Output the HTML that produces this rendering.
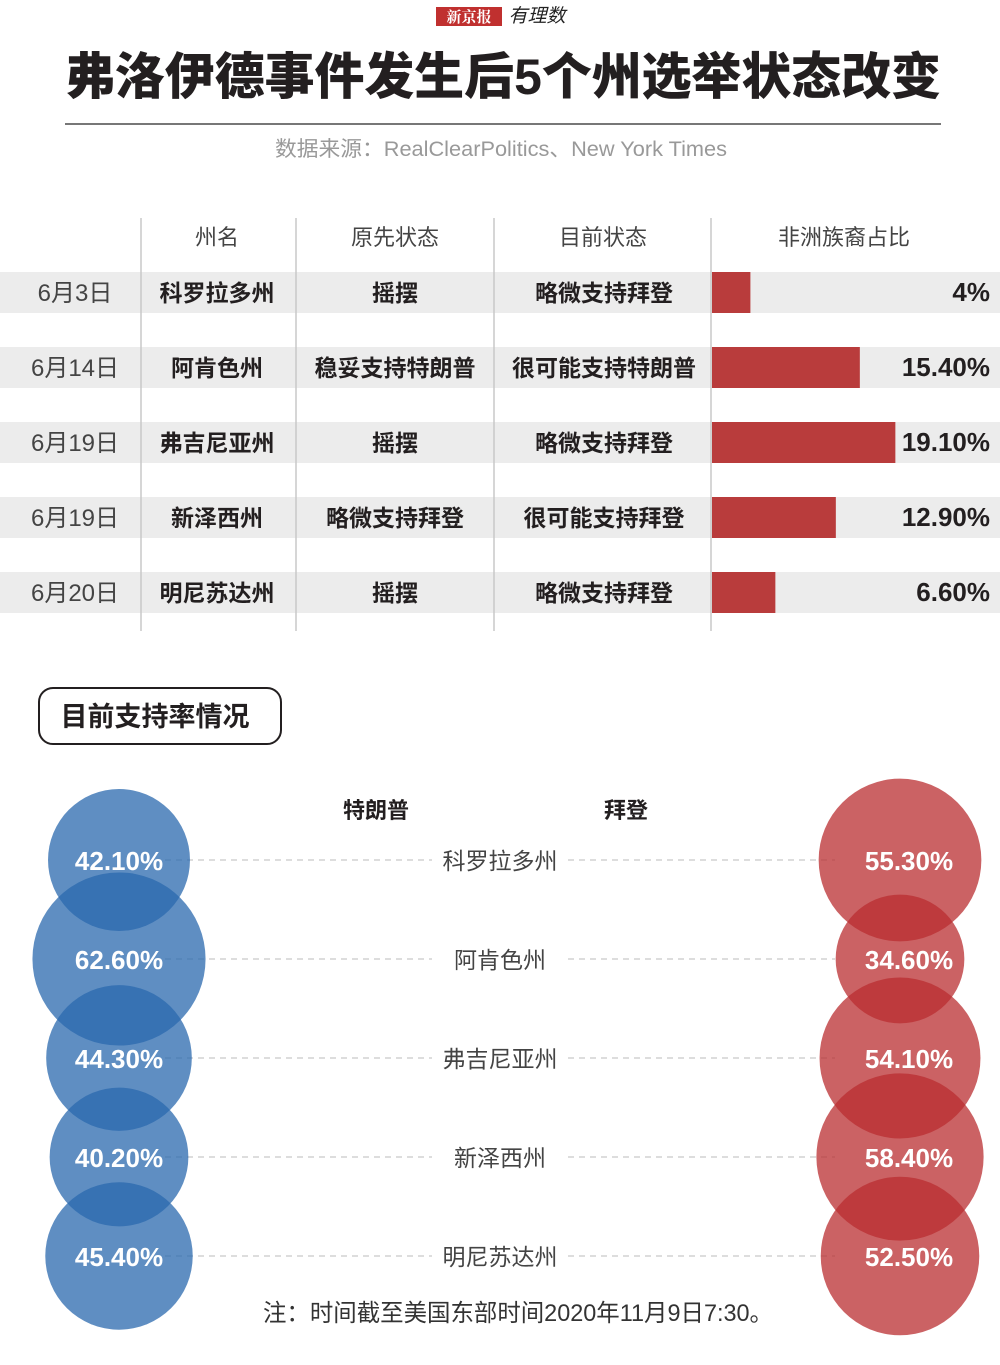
<!DOCTYPE html>
<html><head><meta charset="utf-8"><style>
html,body{margin:0;padding:0;background:#fff;}
svg{display:block;font-family:"Liberation Sans","Noto Sans CJK SC",sans-serif;}
</style></head><body>
<svg id="chart" width="1000" height="1365" viewBox="0 0 1000 1365" xmlns="http://www.w3.org/2000/svg">
<g>
<rect x="436" y="7" width="66" height="19" fill="#c0302f"/>
<text x="469" y="22" text-anchor="middle" font-size="15" font-weight="bold" fill="#fff" font-family="'Noto Serif CJK SC',serif">新京报</text>
<text x="537" y="22" text-anchor="middle" font-size="19" font-style="italic" fill="#222">有理数</text>
</g>
<text x="503" y="94" text-anchor="middle" font-size="50" font-weight="900" fill="#231f20" textLength="876" lengthAdjust="spacingAndGlyphs">弗洛伊德事件发生后5个州选举状态改变</text>
<line x1="65" y1="124" x2="941" y2="124" stroke="#777" stroke-width="2"/>
<text x="501" y="156" text-anchor="middle" font-size="21" fill="#999" textLength="452" lengthAdjust="spacingAndGlyphs">数据来源：RealClearPolitics、New York Times</text>
<g id="table"></g>
<g>
<rect x="39" y="688" width="242" height="56" rx="14" fill="#fff" stroke="#231f20" stroke-width="2"/>
<text x="155" y="726" text-anchor="middle" font-size="27" font-weight="bold" fill="#231f20">目前支持率情况</text>
</g>
<text x="376" y="818" text-anchor="middle" font-size="22" font-weight="bold" fill="#231f20">特朗普</text>
<text x="626" y="818" text-anchor="middle" font-size="22" font-weight="bold" fill="#231f20">拜登</text>
<g id="bubbles"></g>
<text x="518" y="1321" text-anchor="middle" font-size="24" fill="#333" textLength="510" lengthAdjust="spacingAndGlyphs">注：时间截至美国东部时间2020年11月9日7:30。</text>
</svg>
<script>
const dates = ["6月3日","6月14日","6月19日","6月19日","6月20日"];
const states = ["科罗拉多州","阿肯色州","弗吉尼亚州","新泽西州","明尼苏达州"];
const before = ["摇摆","稳妥支持特朗普","摇摆","略微支持拜登","摇摆"];
const now = ["略微支持拜登","很可能支持特朗普","略微支持拜登","很可能支持拜登","略微支持拜登"];
const blackShare = [4, 15.4, 19.1, 12.9, 6.6];
const blackLabels = ["4%","15.40%","19.10%","12.90%","6.60%"];
const trumpPct = [42.1, 62.6, 44.3, 40.2, 45.4];
const bidenPct = [55.3, 34.6, 54.1, 58.4, 52.5];

const NS = "http://www.w3.org/2000/svg";
function mk(parent, tag, attrs, text) {
  const e = document.createElementNS(NS, tag);
  for (const k in attrs) e.setAttribute(k, attrs[k]);
  if (text !== undefined) e.textContent = text;
  parent.appendChild(e);
  return e;
}
const tbl = document.getElementById("table");
const barX = v => v * 9.6;
const rowY = i => 272 + i * 75;
const heads = [["州名",217],["原先状态",395],["目前状态",603],["非洲族裔占比",844]];
heads.forEach(h => {
  const t = mk(tbl, "text", {x:h[1], y:245, "text-anchor":"middle", "font-size":22, fill:"#444"}, h[0]);
  
  
});
dates.forEach((d, i) => {
  const y = rowY(i);
  const bg = mk(tbl, "rect", {x:0, y:y, width:1000, height:41, fill:"#ececec"});
  
  
  const bar = mk(tbl, "rect", {x:712, y:y, width:barX(blackShare[i]), height:41, fill:"#b93c3c"});
  
  
  const cy = y + 29;
  const t1 = mk(tbl, "text", {x:75, y:cy, "text-anchor":"middle", "font-size":24, fill:"#444"}, d);
  
  
  const t2 = mk(tbl, "text", {x:217, y:cy, "text-anchor":"middle", "font-size":23, "font-weight":"bold", fill:"#231f20"}, states[i]);
  
  
  const t3 = mk(tbl, "text", {x:395, y:cy, "text-anchor":"middle", "font-size":23, "font-weight":"bold", fill:"#231f20"}, before[i]);
  
  
  const t4 = mk(tbl, "text", {x:604, y:cy, "text-anchor":"middle", "font-size":23, "font-weight":"bold", fill:"#231f20"}, now[i]);
  
  
  const t5 = mk(tbl, "text", {x:990, y:cy, "text-anchor":"end", "font-size":26, "font-weight":"bold", fill:"#231f20"}, blackLabels[i]);
  
  
});
[141, 296, 494, 711].forEach(x => {
  const l = mk(tbl, "line", {x1:x, y1:218, x2:x, y2:631, stroke:"#c8c8c8", "stroke-width":1.5});
  
  
});

const bub = document.getElementById("bubbles");
const rScale = v => 10.94 * Math.sqrt(v);
const bY = i => 860 + i * 99;
states.forEach((s, i) => {
  const y = bY(i);
  const l1 = mk(bub, "line", {x1:165, y1:y, x2:432, y2:y, stroke:"#bbb", "stroke-dasharray":"6 5"});
  
  
  const l2 = mk(bub, "line", {x1:568, y1:y, x2:835, y2:y, stroke:"#bbb", "stroke-dasharray":"6 5"});
  
  
  const lab = mk(bub, "text", {x:500, y:y + 9, "text-anchor":"middle", "font-size":23, fill:"#444"}, s);
  
  
});
states.forEach((s, i) => {
  const c = mk(bub, "circle", {cx:119, cy:bY(i), r:rScale(trumpPct[i]), fill:"#2a68ad", "fill-opacity":0.75});
  
  
  const c2 = mk(bub, "circle", {cx:900, cy:bY(i), r:rScale(bidenPct[i]), fill:"#b92e30", "fill-opacity":0.75});
  
  
});
states.forEach((s, i) => {
  const t = mk(bub, "text", {x:119, y:bY(i) + 10, "text-anchor":"middle", "font-size":26, "font-weight":"bold", fill:"#fff"}, trumpPct[i].toFixed(2) + "%");
  
  
  const t2 = mk(bub, "text", {x:909, y:bY(i) + 10, "text-anchor":"middle", "font-size":26, "font-weight":"bold", fill:"#fff"}, bidenPct[i].toFixed(2) + "%");
  
  
});
</script>
</body></html>
